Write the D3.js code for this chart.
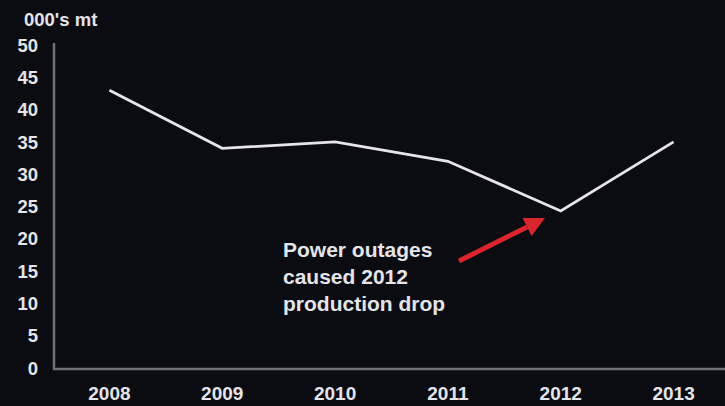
<!DOCTYPE html>
<html><head><meta charset="utf-8">
<script src="https://cdn.jsdelivr.net/npm/d3@7"></script>
<style>
html,body{margin:0;padding:0;background:#0a0c11;}
svg{display:block;}
text{font-family:"Liberation Sans",Arial,sans-serif;font-weight:bold;fill:#e4e4ea;}
</style></head>
<body>
<script>
const years = ["2008","2009","2010","2011","2012","2013"];
const production = [43, 34, 35, 32, 24.3, 35];
const yTicks = [0,5,10,15,20,25,30,35,40,45,50];
const unitLabel = "000's mt";
const noteLines = ["Power outages","caused 2012","production drop"];

const W = 725, H = 406;
const svg = d3.select("body").append("svg").attr("width",W).attr("height",H);
svg.append("rect").attr("width",W).attr("height",H).attr("fill","#0a0c11");

const x = d3.scalePoint().domain(years).range([53,730]).padding(0.5);
const y = d3.scaleLinear().domain([0,50]).range([368,45]);

// axes lines
svg.append("line").attr("x1",54).attr("x2",54).attr("y1",43).attr("y2",370)
  .attr("stroke","#6e7176").attr("stroke-width",2.5);
svg.append("line").attr("x1",53).attr("x2",W).attr("y1",369).attr("y2",369)
  .attr("stroke","#6e7176").attr("stroke-width",2.5);

// y tick labels
svg.selectAll(".yt").data(yTicks).enter().append("text")
  .attr("x",38).attr("y",d=>y(d)).attr("dy","0.36em")
  .attr("text-anchor","end").attr("font-size",18.5).text(d=>d);

// x tick labels
svg.selectAll(".xt").data(years).enter().append("text")
  .attr("x",d=>x(d)).attr("y",393).attr("dy","0.36em")
  .attr("text-anchor","middle").attr("font-size",19).text(d=>d);

svg.append("text").attr("x",24).attr("y",19).attr("dy","0.36em")
  .attr("font-size",18.5).text(unitLabel);

// line
const line = d3.line().x((d,i)=>x(years[i])).y(d=>y(d));
svg.append("path").datum(production).attr("d",line)
  .attr("fill","none").attr("stroke","#e6e6ea").attr("stroke-width",2.8)
  .attr("stroke-linejoin","miter");

// annotation
svg.selectAll(".note").data(noteLines).enter().append("text")
  .attr("x",283).attr("y",(d,i)=>249+i*27).attr("dy","0.36em")
  .attr("font-size",21).text(d=>d);

// arrow
const ax1 = 459, ay1 = 261, ax2 = 545, ay2 = 218;
const ang = Math.atan2(ay2-ay1, ax2-ax1);
const hl = 20, hw = 10;
const bx = ax2 - hl*Math.cos(ang), by = ay2 - hl*Math.sin(ang);
svg.append("line").attr("x1",ax1).attr("y1",ay1).attr("x2",bx).attr("y2",by)
  .attr("stroke","#d9252b").attr("stroke-width",5);
svg.append("path").attr("d",
  `M${ax2},${ay2} L${bx + hw*Math.sin(ang)},${by - hw*Math.cos(ang)} L${bx - hw*Math.sin(ang)},${by + hw*Math.cos(ang)} Z`)
  .attr("fill","#d9252b");
</script>
</body></html>
